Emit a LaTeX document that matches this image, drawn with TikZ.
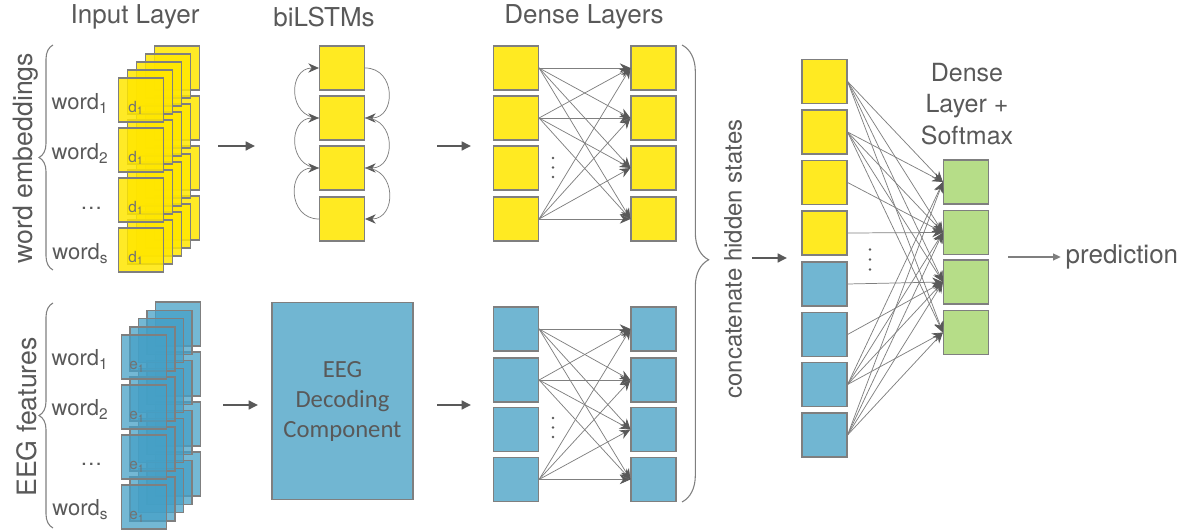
\documentclass[tikz,border=0pt]{standalone}
\usepackage{fontspec}
\setmainfont{TeX Gyre Heros}
\newfontfamily\calfont{Carlito}
\usetikzlibrary{arrows.meta,decorations.pathreplacing}

\definecolor{txtgray}{HTML}{595959}
\definecolor{linegray}{HTML}{7F7F7F}
\definecolor{cellyellow}{HTML}{FFEA22}
\definecolor{stackyellow}{HTML}{FFE600}
\definecolor{cellblue}{HTML}{71B6D2}
\definecolor{stackblue}{HTML}{45A0C6}
\definecolor{cellgreen}{HTML}{B6DD88}

\tikzset{
  cell/.style={rectangle,draw=linegray,line width=1.1pt,minimum width=33.5pt,minimum height=33pt,inner sep=0pt},
  ycell/.style={cell,fill=cellyellow},
  bcell/.style={cell,fill=cellblue},
  gcell/.style={cell,fill=cellgreen},
  ystack/.style={cell,fill=stackyellow,fill opacity=0.85},
  bstack/.style={cell,fill=stackblue,fill opacity=0.75},
  title/.style={font=\fontsize{19.5}{23}\selectfont},
  wordlbl/.style={anchor=base east,font=\fontsize{16.5}{20}\selectfont},
  dimlbl/.style={font=\fontsize{11.5}{13}\selectfont,text=txtgray!85},
  sidelbl/.style={rotate=90,font=\fontsize{20}{24}\selectfont},
  link/.style={draw=linegray,line width=0.55pt,-{Stealth[length=8pt,width=7pt,color=txtgray]}},
  flow/.style={draw=txtgray,line width=2pt,-{Triangle[length=7pt,width=6.5pt]}},
  lbrace/.style={draw=linegray,line width=0.8pt,decorate,decoration={brace,amplitude=10.5pt}},
}

\begin{document}
\begin{tikzpicture}[x=0.75pt,y=-0.75pt,every node/.style={text=txtgray}]
\useasboundingbox (0,0) rectangle (1192,530);

% titles
\node[title] (tin) at (135,17) {Input Layer};
\node[title] (tbl) at (324,17) {biLSTMs};
\node[title] (tdl) at (584,17) {Dense Layers};

% input layer: word embeddings
\foreach \k in {4,3,2,1,0}{
  \foreach \r in {1,...,4}{
    \node[ystack] (wd\r\k) at ({141+9*\k},{50+50*\r-8*\k}) {};
  }
}
\foreach \r in {1,...,4}
  \node[dimlbl] (d\r) at (136,{58+50*\r}) {d\textsubscript{1}};
\foreach \r/\t in {1/1,2/2,4/s}
  \node[wordlbl] (wl\r) at (113,{60+50*\r}) {word\textsubscript{\t}};
\node[wordlbl] (wl3) at (107,210) {\dots};

% input layer: EEG features
\foreach \k in {4,3,2,1,0}{
  \foreach \r in {1,...,4}{
    \node[bstack] (we\r\k) at ({144+8.5*\k},{307+50*\r-8.2*\k}) {};
  }
}
\foreach \r in {1,...,4}
  \node[dimlbl] (e\r) at (137,{317+50*\r}) {e\textsubscript{1}};
\foreach \r/\t in {1/1,2/2,4/s}
  \node[wordlbl] (el\r) at (113,{316+50*\r}) {word\textsubscript{\t}};
\node[wordlbl] (elx3) at (107,466) {\dots};

\draw[lbrace] (53,270) -- (53,45);
\draw[lbrace] (53,528) -- (53,303);
\node[sidelbl] (sw) at (26,158) {word embeddings};
\node[sidelbl] (se) at (27,417) {EEG features};

% biLSTMs
\foreach \r/\yy in {1/68,2/118,3/168,4/219}
  \node[ycell] (bl\r) at (342,\yy) {};
\foreach \a/\b in {1/2,2/3,3/4}{
  \draw[link] (bl\b.west) to[out=180,in=180,looseness=1.6] (bl\a.west);
  \draw[link] (bl\a.east) to[out=0,in=0,looseness=1.6] (bl\b.east);
}

% EEG decoding component
\node[bcell,minimum width=105.5pt,minimum height=148pt,align=center,
  font=\calfont\fontsize{18.5}{22.5}\selectfont] (eeg) at (342.5,401) {EEG\\Decoding\\Component};

% dense layers
\foreach \r/\yy in {1/68,2/118,3/168,4/219}{
  \node[ycell] (dl\r) at (516,\yy) {};
  \node[ycell] (dr\r) at (653.5,\yy) {};
}
\foreach \r/\yy in {1/329,2/380,3/429.5,4/479.5}{
  \node[bcell] (gl\r) at (516,\yy) {};
  \node[bcell] (gr\r) at (653.5,\yy) {};
}
\foreach \a in {1,2,4}
  \foreach \b in {1,...,4}{
    \draw[link] (dl\a.east) -- (dr\b.west);
    \draw[link] (gl\a.east) -- (gr\b.west);
  }
\foreach \d in {-9.5,0,9.5}{
  \fill[txtgray] (553,{167.5+\d}) circle (1.1pt);
  \fill[txtgray] (553,{427.5+\d}) circle (1.1pt);
}

% flow arrows
\coordinate (f1a) at (218,146); \coordinate (f1b) at (255,146);
\coordinate (f2a) at (223,405); \coordinate (f2b) at (258,405);
\coordinate (f3a) at (437,146); \coordinate (f3b) at (471,146);
\coordinate (f4a) at (437,405); \coordinate (f4b) at (471,405);
\coordinate (f5a) at (752,258); \coordinate (f5b) at (787,258);
\draw[flow] (f1a) -- (f1b);
\draw[flow] (f2a) -- (f2b);
\draw[flow] (f3a) -- (f3b);
\draw[flow] (f4a) -- (f4b);
\draw[flow] (f5a) -- (f5b);

% concatenation
\draw[draw=linegray,line width=0.8pt,decorate,decoration={brace,amplitude=20pt,aspect=0.47}] (682,45) -- (682,502);
\node[rotate=90,font=\fontsize{18}{22}\selectfont] (cat) at (733,259) {concatenate hidden states};

\foreach \r/\yy in {1/81.5,2/132,3/182.5,4/233}
  \node[ycell] (cc\r) at (824.5,\yy) {};
\foreach \r/\yy in {5/284,6/334.5,7/384.5,8/435}
  \node[bcell] (cc\r) at (824.5,\yy) {};
\foreach \r/\yy in {1/182,2/232.5,3/282,4/332.5}
  \node[gcell] (sm\r) at (966,\yy) {};
\foreach \a/\b in {1/1,1/2,1/3,1/4,2/1,2/2,2/3,2/4,3/2,4/2,5/3,6/3,7/1,7/2,7/3,7/4,8/1,8/2,8/3,8/4}
  \draw[link] (cc\a.east) -- (sm\b.west);
\foreach \d in {-10,0,10}
  \fill[txtgray] (870,{259.5+\d}) circle (1.1pt);

\node[align=center,font=\fontsize{18.75}{23.6}\selectfont] (smt) at (967,104) {Dense\\Layer +\\Softmax};

% output
\node[anchor=west,font=\fontsize{19.5}{23}\selectfont] (pred) at (1061,257) {prediction};
\coordinate (p0) at (1008,257);
\draw[draw=linegray,line width=1.5pt,-{Triangle[length=6pt,width=5pt]}] (p0) -- (pred.west);
\end{tikzpicture}
\end{document}
